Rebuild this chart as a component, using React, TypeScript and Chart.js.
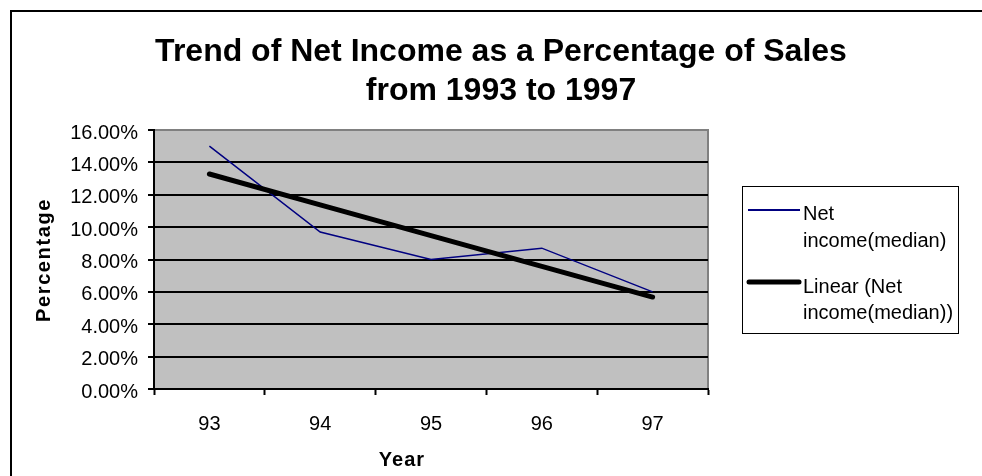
import React, { useEffect, useRef } from "react";
import { Chart, registerables } from "chart.js";

Chart.register(...registerables);

// Fiscal years (two-digit) shown on the category axis
const years = ["93", "94", "95", "96", "97"];
// Median net income as a percentage of sales
const netIncome = [15.0, 9.7, 8.0, 8.7, 6.0];
// Linear trend line fitted to the median net income
const linearTrend = [13.28, 11.38, 9.48, 7.58, 5.68];
// Value axis range and step (percent)
const yMin = 0;
const yMax = 16;
const yStep = 2;

const titleLines = ["Trend of Net Income as a Percentage of Sales", "from 1993 to 1997"];
const xAxisTitle = "Year";
const yAxisTitle = "Percentage";
const netLegendLines = ["Net", "income(median)"];
const trendLegendLines = ["Linear (Net", "income(median))"];

const FONT = '"Liberation Sans", Arial, Helvetica, sans-serif';
const W = 982;
const H = 476;

const decorations = {
  id: "decorations",
  beforeDraw(chart: any) {
    const { ctx, chartArea } = chart;
    ctx.save();
    ctx.fillStyle = "#ffffff";
    ctx.fillRect(0, 0, W, H);
    // outer chart frame (runs off the right and bottom edges)
    ctx.strokeStyle = "#000000";
    ctx.lineWidth = 2;
    ctx.strokeRect(11, 11, W + 20, H + 20);
    // plot area fill and border
    ctx.fillStyle = "#c0c0c0";
    ctx.fillRect(chartArea.left, chartArea.top, chartArea.right - chartArea.left, chartArea.bottom - chartArea.top);
    ctx.strokeStyle = "#808080";
    ctx.lineWidth = 2;
    ctx.strokeRect(chartArea.left, chartArea.top, chartArea.right - chartArea.left, chartArea.bottom - chartArea.top);
    ctx.restore();
  },
  afterDraw(chart: any) {
    const { ctx } = chart;
    ctx.save();
    ctx.fillStyle = "#000000";

    // chart title
    ctx.font = `bold 32px ${FONT}`;
    ctx.textAlign = "center";
    ctx.textBaseline = "alphabetic";
    ctx.fillText(titleLines[0], 501, 61);
    ctx.fillText(titleLines[1], 501, 100);

    // axis titles
    ctx.font = `bold 20px ${FONT}`;
    try { (ctx as any).letterSpacing = "1px"; } catch (e) { /* ignore */ }
    ctx.fillText(xAxisTitle, 402, 466);
    ctx.save();
    try { (ctx as any).letterSpacing = "1.6px"; } catch (e) { /* ignore */ }
    ctx.translate(50, 260);
    ctx.rotate(-Math.PI / 2);
    ctx.textBaseline = "alphabetic";
    ctx.fillText(yAxisTitle, 0, 0);
    ctx.restore();
    try { (ctx as any).letterSpacing = "0px"; } catch (e) { /* ignore */ }

    // legend box
    ctx.strokeStyle = "#000000";
    ctx.lineWidth = 1;
    ctx.strokeRect(742.5, 186.5, 216, 147);

    ctx.lineCap = "butt";
    ctx.strokeStyle = "#000080";
    ctx.lineWidth = 2;
    ctx.beginPath();
    ctx.moveTo(748, 210);
    ctx.lineTo(800, 210);
    ctx.stroke();

    ctx.lineCap = "round";
    ctx.strokeStyle = "#000000";
    ctx.lineWidth = 5;
    ctx.beginPath();
    ctx.moveTo(749, 282);
    ctx.lineTo(799, 282);
    ctx.stroke();

    ctx.font = `20px ${FONT}`;
    ctx.textAlign = "left";
    ctx.fillText(netLegendLines[0], 803, 220);
    ctx.fillText(netLegendLines[1], 803, 247);
    ctx.fillText(trendLegendLines[0], 803, 293);
    ctx.fillText(trendLegendLines[1], 803, 319);
    ctx.restore();
  },
};

export default function App() {
  const canvasRef = useRef<HTMLCanvasElement | null>(null);

  useEffect(() => {
    const canvas = canvasRef.current;
    if (!canvas) return;
    const chart = new Chart(canvas, {
      type: "line",
      data: {
        labels: years,
        datasets: [
          {
            label: "Linear (Net income(median))",
            data: linearTrend,
            borderColor: "#000000",
            borderWidth: 5,
            borderCapStyle: "round",
            pointRadius: 0,
            tension: 0,
            fill: false,
            order: 0,
          },
          {
            label: "Net income(median)",
            data: netIncome,
            borderColor: "#000080",
            borderWidth: 1.5,
            pointRadius: 0,
            tension: 0,
            fill: false,
            order: 1,
          },
        ],
      },
      options: {
        responsive: false,
        animation: false,
        devicePixelRatio: 1,
        layout: { padding: { top: 130, left: 10, right: 274, bottom: 0 } },
        plugins: {
          legend: { display: false },
          title: { display: false },
          tooltip: { enabled: false },
        },
        scales: {
          x: {
            type: "category",
            offset: true,
            grid: {
              offset: true,
              drawOnChartArea: false,
              drawTicks: true,
              tickLength: 6,
              tickColor: "#000000",
              tickWidth: 2,
            },
            border: { display: true, color: "#000000", width: 2 },
            ticks: {
              color: "#000000",
              font: { family: FONT, size: 20 },
              padding: 17,
              maxRotation: 0,
              autoSkip: false,
            },
            afterFit: (scale: any) => {
              scale.height = 87;
            },
          },
          y: {
            min: yMin,
            max: yMax,
            ticks: {
              stepSize: yStep,
              color: "#000000",
              font: { family: FONT, size: 20 },
              padding: 10,
              labelOffset: 3,
              callback: (v: any) => Number(v).toFixed(2) + "%",
            },
            grid: {
              color: (c: any) => (c.tick && c.tick.value === yMax ? "#808080" : "#000000"),
              lineWidth: 2,
              drawTicks: true,
              tickLength: 6,
              tickColor: "#000000",
              tickWidth: 2,
            },
            border: { display: true, color: "#000000", width: 2 },
            afterFit: (scale: any) => {
              scale.width = 144;
            },
          },
        },
      },
      plugins: [decorations],
    });
    return () => chart.destroy();
  }, []);

  return (
    <div style={{ position: "fixed", left: 0, top: 0, width: W, height: H, background: "#fff" }}>
      <canvas ref={canvasRef} width={W} height={H} style={{ display: "block", width: W, height: H }} />
    </div>
  );
}
